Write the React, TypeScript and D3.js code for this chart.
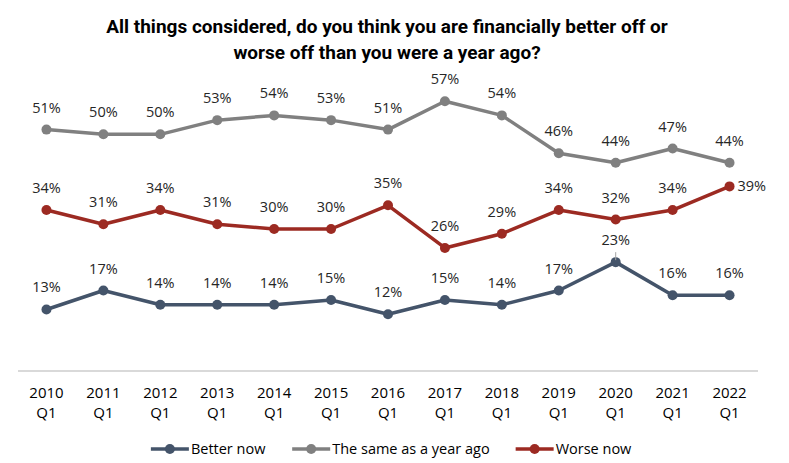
import React, { useRef, useEffect } from "react";
import * as d3 from "d3";

const years = ["2010", "2011", "2012", "2013", "2014", "2015", "2016", "2017", "2018", "2019", "2020", "2021", "2022"];
const quarter = "Q1";

const betterNow = [13, 17, 14, 14, 14, 15, 12, 15, 14, 17, 23, 16, 16];
const sameAsYearAgo = [51, 50, 50, 53, 54, 53, 51, 57, 54, 46, 44, 47, 44];
const worseNow = [34, 31, 34, 31, 30, 30, 35, 26, 29, 34, 32, 34, 39];

const seriesNames = ["Better now", "The same as a year ago", "Worse now"];
const seriesColors = ["#44546A", "#808080", "#9C2A22"];

const titleLines = [
  "All things considered, do you think you are financially better off or",
  "worse off than you were a year ago?",
];

const FONT = "'Open Sans', 'DejaVu Sans', sans-serif";

const App = () => {
  const svgRef = useRef<SVGSVGElement>(null);

  useEffect(() => {
    const svg = d3.select(svgRef.current);
    svg.selectAll("*").remove();

    const width = 789;
    const height = 463;
    const left = 18;
    const right = 758;

    const series = [betterNow, sameAsYearAgo, worseNow].map((values, i) => ({
      name: seriesNames[i],
      color: seriesColors[i],
      values,
    }));

    const x = d3.scaleBand().domain(years).range([left, right]);
    const cx = (yr: string) => (x(yr) as number) + x.bandwidth() / 2;
    const y = d3.scaleLinear().domain([0, 60]).range([371, 87]);

    // title
    svg
      .append("g")
      .selectAll("text")
      .data(titleLines)
      .join("text")
      .attr("x", 387)
      .attr("y", (_, i) => 33 + i * 26)
      .attr("text-anchor", "middle")
      .attr("font-family", "'Liberation Sans Narrow', 'Roboto', sans-serif")
      .attr("font-weight", "bold")
      .attr("font-size", 19)
      .attr("fill", "#000")
      .text((d) => d);

    // category axis
    svg
      .append("line")
      .attr("x1", left)
      .attr("x2", right)
      .attr("y1", y(0))
      .attr("y2", y(0))
      .attr("stroke", "#D9D9D9")
      .attr("stroke-width", 2);

    const ticks = svg
      .append("g")
      .selectAll("g")
      .data(years)
      .join("g")
      .attr("transform", (d) => `translate(${cx(d)},0)`);
    ticks
      .append("text")
      .attr("y", 398)
      .attr("text-anchor", "middle")
      .attr("font-family", FONT)
      .attr("font-size", 15)
      .attr("fill", "#000")
      .text((d) => d);
    ticks
      .append("text")
      .attr("y", 418)
      .attr("text-anchor", "middle")
      .attr("font-family", FONT)
      .attr("font-size", 15)
      .attr("fill", "#000")
      .text(quarter);

    const line = d3
      .line<number>()
      .x((_, i) => cx(years[i]))
      .y((d) => y(d));

    series.forEach((s) => {
      const g = svg.append("g");
      g.append("path")
        .datum(s.values)
        .attr("fill", "none")
        .attr("stroke", s.color)
        .attr("stroke-width", 3.5)
        .attr("stroke-linejoin", "round")
        .attr("d", line);
      g.selectAll("circle")
        .data(s.values)
        .join("circle")
        .attr("cx", (_, i) => cx(years[i]))
        .attr("cy", (d) => y(d))
        .attr("r", 5)
        .attr("fill", s.color);

      const last = s.values.length - 1;
      const isSide = (i: number) => s.name === "Worse now" && i === last;
      g.selectAll("text")
        .data(s.values)
        .join("text")
        .attr("x", (_, i) => (isSide(i) ? cx(years[i]) + 8 : cx(years[i])))
        .attr("y", (d, i) => (isSide(i) ? y(d) + 5 : y(d) - 17))
        .attr("text-anchor", (_, i) => (isSide(i) ? "start" : "middle"))
        .attr("font-family", FONT)
        .attr("font-size", 14.5)
        .attr("fill", "#262626")
        .text((d) => `${d}%`);

      // leader line under the peak label
      if (s.name === "Better now") {
        const peak = d3.maxIndex(s.values);
        g.append("line")
          .attr("x1", cx(years[peak]))
          .attr("x2", cx(years[peak]))
          .attr("y1", y(s.values[peak]) - 10)
          .attr("y2", y(s.values[peak]) - 2)
          .attr("stroke", "#A6A6A6")
          .attr("stroke-width", 1);
      }
    });

    // legend
    const legend = svg.append("g");
    const items = legend
      .selectAll("g")
      .data(series)
      .join("g");
    items
      .append("line")
      .attr("x1", 0)
      .attr("x2", 38)
      .attr("y1", 0)
      .attr("y2", 0)
      .attr("stroke", (d) => d.color)
      .attr("stroke-width", 3.5);
    items
      .append("circle")
      .attr("cx", 19)
      .attr("cy", 0)
      .attr("r", 5)
      .attr("fill", (d) => d.color);
    items
      .append("text")
      .attr("x", 40)
      .attr("y", 5)
      .attr("font-family", FONT)
      .attr("font-size", 14.5)
      .attr("fill", "#000")
      .text((d) => d.name);

    let offset = 0;
    const gap = 26;
    items.each(function () {
      const node = this as SVGGElement;
      d3.select(node).attr("transform", `translate(${offset},0)`);
      offset += node.getBBox().width + gap;
    });
    const total = offset - gap;
    legend.attr("transform", `translate(${(width - total) / 2 - 3},449)`);

    svg.attr("viewBox", `0 0 ${width} ${height}`);
  }, []);

  return (
    <svg
      ref={svgRef}
      width={789}
      height={463}
      style={{ position: "absolute", left: 0, top: 0, background: "#fff" }}
    />
  );
};

export default App;
